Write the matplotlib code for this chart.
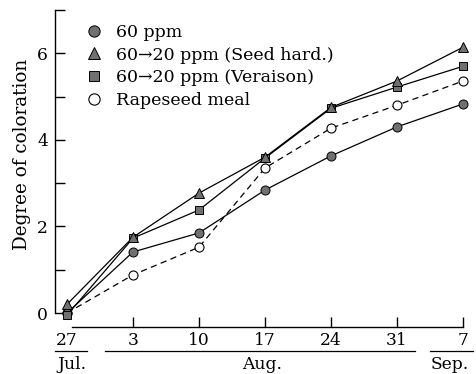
import numpy as np
import matplotlib
matplotlib.use("Agg")
import matplotlib.pyplot as plt
import matplotlib.transforms as mtransforms

plt.rcParams['font.family'] = ['DejaVu Serif']
plt.rcParams['font.size'] = 12.3

# jours depuis le 27 juillet
jours = [0, 7, 14, 21, 28, 35, 42]
etiquettes_jours = ["27", "3", "10", "17", "24", "31", "7"]

ppm60 = [0.0, 1.41, 1.85, 2.84, 3.63, 4.30, 4.83]
seed_hard = [0.2, 1.75, 2.77, 3.60, 4.75, 5.36, 6.14]
veraison = [-0.05, 1.73, 2.38, 3.58, 4.73, 5.22, 5.70]
rapeseed = [0.0, 0.88, 1.52, 3.35, 4.27, 4.80, 5.36]

W, H = 476, 374
fig = plt.figure(figsize=(W / 100, H / 100), dpi=100)
ax = fig.add_axes([55 / W, 47 / H, 415 / W, 317 / H])

gris = "#707070"
lw = 0.9
l1, = ax.plot(jours, ppm60, "-", color="black", lw=lw, marker="o", ms=6.5,
              mfc=gris, mec="black", mew=0.7, zorder=3, label="60 ppm")
l4, = ax.plot(jours, rapeseed, "--", color="black", lw=lw, marker="o", ms=6.5,
              mfc="white", mec="black", mew=0.8, zorder=2, label="Rapeseed meal",
              dashes=(5, 3.5))
l3, = ax.plot(jours, veraison, "-", color="black", lw=lw, marker="s", ms=5.8,
              mfc=gris, mec="black", mew=0.7, zorder=4, label="60→20 ppm (Veraison)")
l2, = ax.plot(jours, seed_hard, "-", color="black", lw=lw, marker="^", ms=7,
              mfc=gris, mec="black", mew=0.7, zorder=5, label="60→20 ppm (Seed hard.)")

ax.set_xlim(-1.27, 42.74)
ax.set_ylim(-0.323, 7.0)

for s in ["top", "right"]:
    ax.spines[s].set_visible(False)
ax.spines["left"].set_bounds(0, 7)
ax.spines["bottom"].set_bounds(0.53, 42)
ax.spines["left"].set_linewidth(1.0)
ax.spines["bottom"].set_linewidth(1.0)

ax.set_yticks([0, 2, 4, 6])
ax.set_yticks([1, 3, 5, 7], minor=True)
ax.tick_params(axis="y", which="both", direction="in", length=7, width=1.0, pad=5)
ax.set_xticks(jours)
ax.set_xticklabels(etiquettes_jours)
ax.tick_params(axis="x", which="both", direction="in", length=7, width=1.0, pad=3.5)
ax.xaxis.get_major_ticks()[0].tick1line.set_visible(False)

ax.set_ylabel("Degree of coloration", fontsize=13.2)
ax.yaxis.set_label_coords(-24 / 415, 0.545)

# soulignements des mois
trans = mtransforms.blended_transform_factory(ax.transData, ax.transAxes)
y_ligne = -0.0757
for x0, x1 in [(-1.27, 2.12), (4.03, 36.9), (38.5, 43.06)]:
    ax.plot([x0, x1], [y_ligne, y_ligne], color="black", lw=0.9,
            transform=trans, clip_on=False)
for x, txt in [(0.53, "Jul."), (20.7, "Aug."), (40.6, "Sep.")]:
    ax.text(x, -0.118, txt, transform=trans, ha="center", va="center")

ax.legend(handles=[l1, l2, l3, l4], loc="upper left",
          bbox_to_anchor=(86 / W, 1 - 24 / H), bbox_transform=fig.transFigure,
          frameon=False, handlelength=0.9, handletextpad=0.85, labelspacing=0.32,
          borderpad=0, borderaxespad=0, numpoints=1, markerscale=1.25,
          fontsize=12.5)
for h in ax.get_legend().legend_handles:
    h.set_linestyle("None")

fig.savefig("out.png", dpi=100)
